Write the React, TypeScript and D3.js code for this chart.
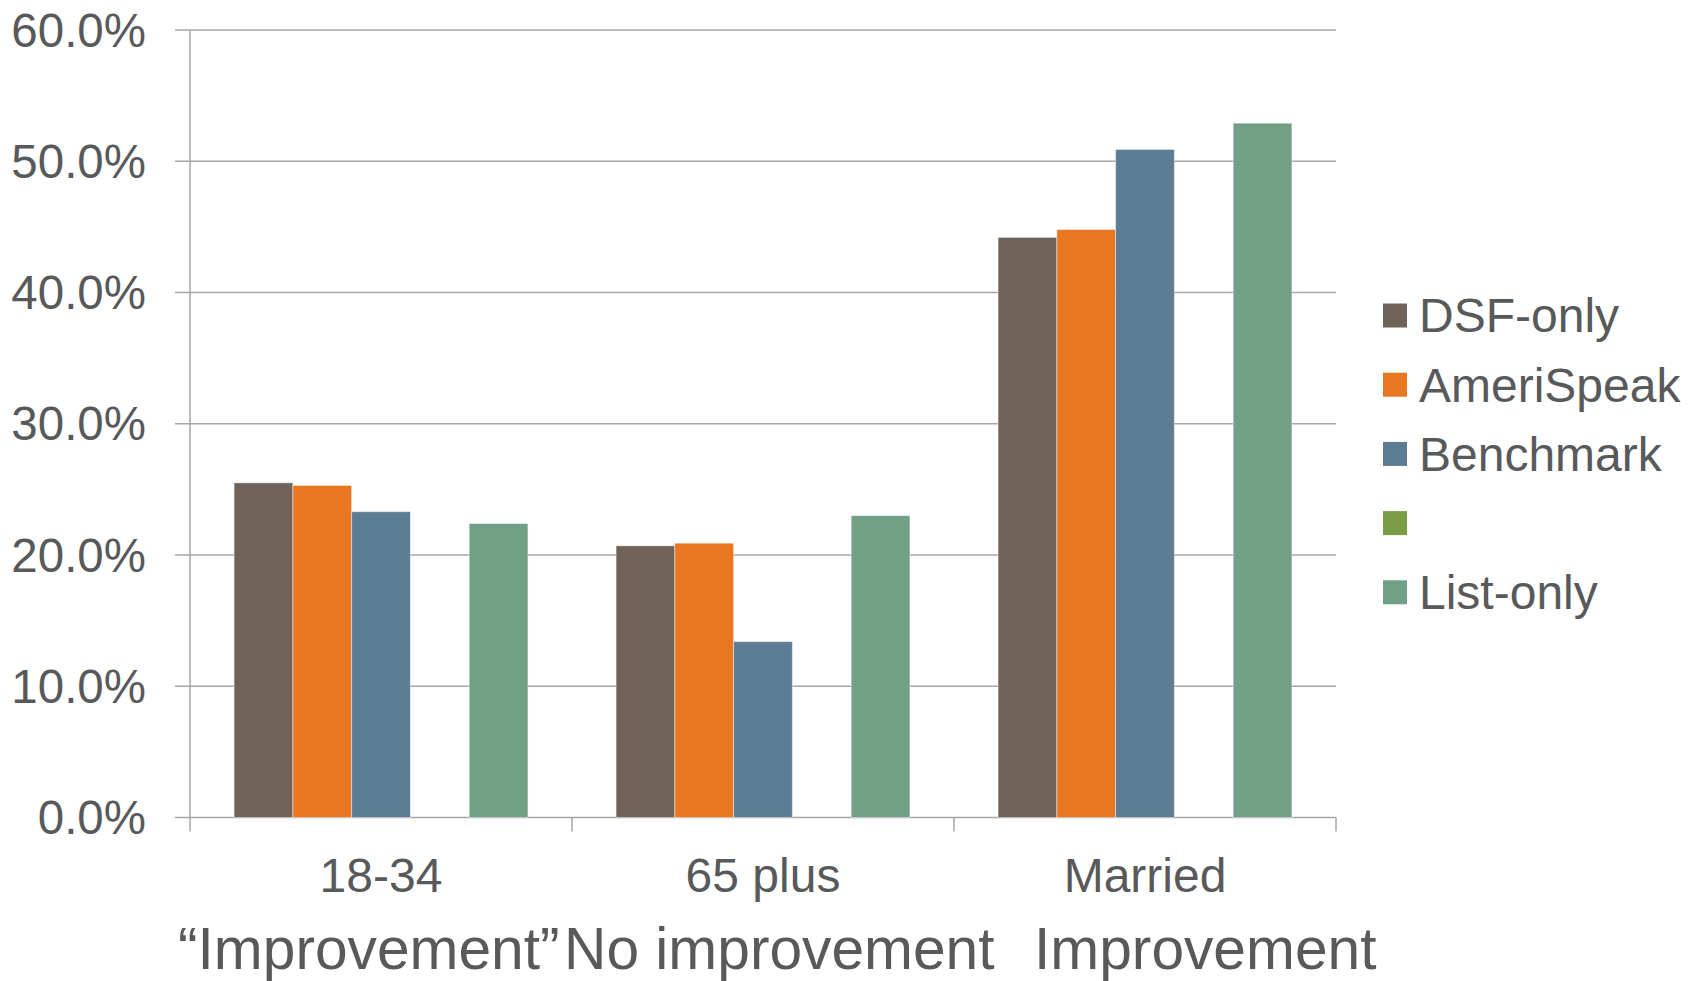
import React from "react";
import * as d3 from "d3";

const categories = ["18-34", "65 plus", "Married"];
const subLabels = ["\u201CImprovement\u201D", "No improvement", "Improvement"];
const seriesNames = ["DSF-only", "AmeriSpeak", "Benchmark", "", "List-only"];
const seriesColors = ["#6E6259", "#E87722", "#5C7C94", "#7A9C45", "#71A086"];
const dsfOnly = [25.5, 20.7, 44.2];
const ameriSpeak = [25.3, 20.9, 44.8];
const benchmark = [23.3, 13.4, 50.9];
const blankSeries: (number | null)[] = [null, null, null];
const listOnly = [22.4, 23.0, 52.9];
const yTicks = [0, 10, 20, 30, 40, 50, 60];

const seriesValues = [dsfOnly, ameriSpeak, benchmark, blankSeries, listOnly];

const W = 1694;
const H = 981;
const left = 190;
const right = 1336;
const top = 30;
const bottom = 817.5;
const textColor = "#58595B";
const gridColor = "#A6A6A6";
const font = "'Liberation Sans', Arial, sans-serif";

export default function App() {
  const x0 = d3.scaleBand<string>().domain(categories).range([left, right]).padding(0);
  const x1 = d3
    .scaleBand<string>()
    .domain(seriesNames.map((_, i) => String(i)))
    .range([0, x0.bandwidth()])
    .paddingInner(0)
    .paddingOuter(0.75);
  const y = d3.scaleLinear().domain([0, 60]).range([bottom, top]);

  const catEdges = [...categories.map((c) => x0(c) as number), right];

  return (
    <svg
      width={W}
      height={H}
      style={{ position: "absolute", left: 0, top: 0, background: "#fff" }}
      fontFamily={font}
    >
      <rect x={0} y={0} width={W} height={H} fill="#fff" />
      {/* gridlines */}
      {yTicks.map((t) => (
        <line
          key={"g" + t}
          x1={left - 15}
          x2={right}
          y1={y(t)}
          y2={y(t)}
          stroke={gridColor}
          strokeWidth={1.5}
        />
      ))}
      {/* y axis */}
      <line x1={left} x2={left} y1={top} y2={bottom} stroke={gridColor} strokeWidth={1.5} />
      {/* x ticks */}
      {catEdges.map((e, i) => (
        <line
          key={"xt" + i}
          x1={e}
          x2={e}
          y1={bottom}
          y2={bottom + 14}
          stroke={gridColor}
          strokeWidth={1.5}
        />
      ))}
      {/* bars */}
      {seriesValues.map((vals, si) =>
        vals.map((v, ci) =>
          v == null ? null : (
            <rect
              key={`b${si}-${ci}`}
              x={(x0(categories[ci]) as number) + (x1(String(si)) as number)}
              y={y(v)}
              width={x1.bandwidth()}
              height={y(0) - y(v)}
              fill={seriesColors[si]}
              stroke="#ffffff"
              strokeOpacity={0.45}
              strokeWidth={1}
            />
          )
        )
      )}
      {/* y tick labels */}
      {yTicks.map((t) => (
        <text
          key={"yl" + t}
          x={146}
          y={y(t)}
          dy="0.35em"
          textAnchor="end"
          fontSize={47.5}
          fill={textColor}
        >
          {t.toFixed(1) + "%"}
        </text>
      ))}
      {/* category labels */}
      {categories.map((c) => (
        <text
          key={"c" + c}
          x={(x0(c) as number) + x0.bandwidth() / 2}
          y={892}
          textAnchor="middle"
          fontSize={48}
          fill={textColor}
        >
          {c}
        </text>
      ))}
      {/* sub labels */}
      <text x={178} y={969} fontSize={58.7} fill={textColor}>
        {subLabels[0]}
      </text>
      <text x={564} y={969} fontSize={58.7} fill={textColor}>
        {subLabels[1]}
      </text>
      <text x={1034} y={969} fontSize={58.7} fill={textColor}>
        {subLabels[2]}
      </text>
      {/* legend */}
      {seriesNames.map((n, i) => {
        const cy = 315.5 + i * 69.2;
        return (
          <g key={"l" + i}>
            <rect x={1383} y={cy - 12} width={24} height={24} fill={seriesColors[i]} />
            <text x={1419} y={cy} dy="0.35em" fontSize={48} fill={textColor}>
              {n}
            </text>
          </g>
        );
      })}
    </svg>
  );
}
